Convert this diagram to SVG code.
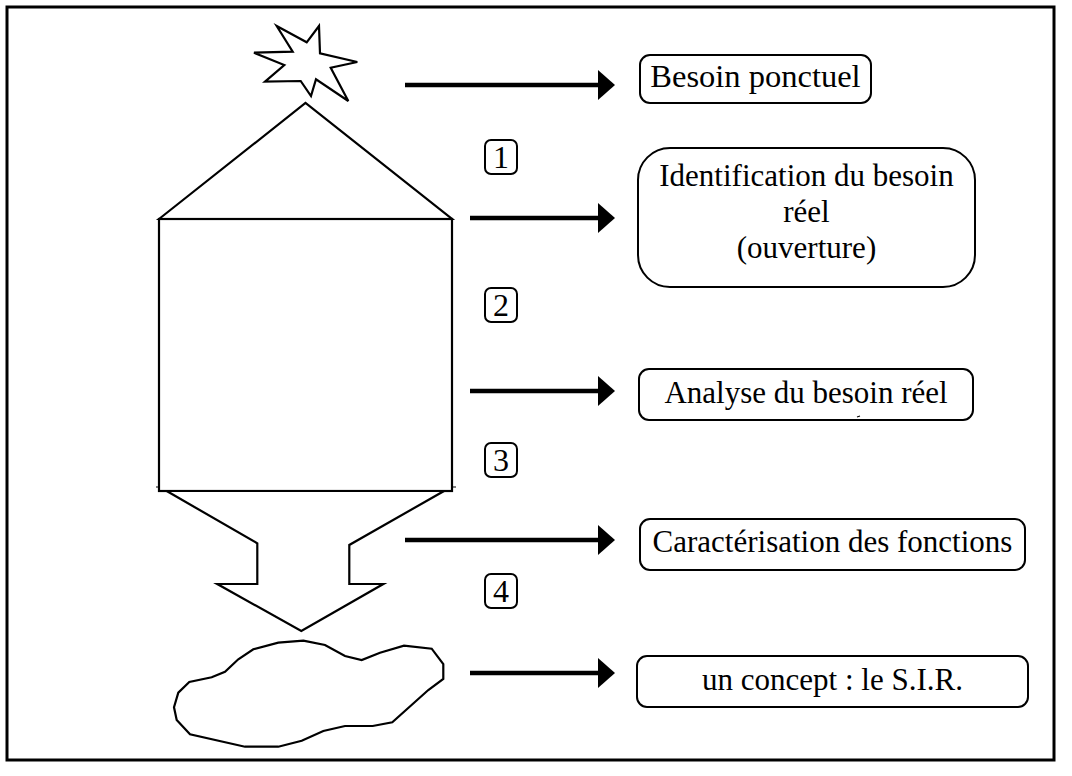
<svg xmlns="http://www.w3.org/2000/svg" width="1072" height="776" viewBox="0 0 1072 776">
<style>
.shape{fill:#fff;stroke:#000;stroke-width:2.2;stroke-linejoin:miter}
.box{fill:#fff;stroke:#000;stroke-width:2}
.lbl{font-family:"Liberation Serif","Times New Roman",serif;font-size:31px;fill:#000;text-anchor:middle}
.num{font-size:32px}
.conn{stroke:#000;stroke-width:4.5;fill:none;marker-end:url(#ah)}
</style>
<defs>
<marker id="ah" markerUnits="userSpaceOnUse" markerWidth="18" markerHeight="32" refX="2" refY="16" orient="auto">
<path d="M0,1 L17,16 L0,31 z" fill="#000"/>
</marker>
</defs>
<rect x="0" y="0" width="1072" height="776" fill="#fff"/>
<rect x="7" y="7" width="1047" height="753" fill="none" stroke="#000" stroke-width="3"/>

<g id="star">
<polygon class="shape" points="276.7,26 306.7,42.3 319,26 320,53.3 357.3,62 330.7,67.7 348.3,101 316,79.3 311,96 300.7,81 265,81.7 284.3,65 254,52.7 292.7,51.7"/>
</g>
<g id="silo">
<polygon class="shape" points="159,219 305.5,103 452,219"/>
<rect class="shape" x="159" y="219" width="293" height="272"/>
<line x1="156" y1="487" x2="159" y2="487" stroke="#000" stroke-width="1"/>
<line x1="452" y1="487" x2="456" y2="487" stroke="#000" stroke-width="1"/>
</g>
<g id="down-arrow">
<polygon class="shape" points="166.7,491 257.3,543.3 257.3,584 217.3,584 301.3,631 383.3,584 349.3,584 349.3,545 444,491"/>
</g>
<g id="cloud">
<polygon class="shape" points="303.3,640.7 325,645 345,656 361.7,660 380,652.7 404,645.7 431.7,648.7 443.3,664 443.3,679 428.3,690 392.3,722.3 372.7,726 345,726 323.3,731 301.7,740.7 278.3,746.7 245,746.7 190,734.3 176.7,720 174,707.3 178.3,692.7 189.3,682 211.7,677.3 225,671.7 238.3,659.3 253.3,649.3 278.3,642.7"/>
</g>

<g id="connectors">
<line class="conn" x1="405" y1="85" x2="600" y2="85"/>
<line class="conn" x1="470" y1="218" x2="600" y2="218"/>
<line class="conn" x1="470" y1="391" x2="600" y2="391"/>
<line class="conn" x1="405" y1="540" x2="600" y2="540"/>
<line class="conn" x1="470" y1="673" x2="600" y2="673"/>
</g>

<g id="n1"><rect class="box" x="485" y="140" width="32" height="34" rx="6"/><text class="lbl num" x="501" y="168">1</text></g>
<g id="n2"><rect class="box" x="485" y="288" width="32" height="34" rx="6"/><text class="lbl num" x="501" y="316">2</text></g>
<g id="n3"><rect class="box" x="485" y="443" width="32" height="34" rx="6"/><text class="lbl num" x="501" y="471">3</text></g>
<g id="n4"><rect class="box" x="485" y="574" width="32" height="34" rx="6"/><text class="lbl num" x="501" y="602">4</text></g>

<g id="b1"><rect class="box" x="640" y="55" width="231" height="48" rx="10"/><text class="lbl" x="755.5" y="87" style="font-size:32.5px">Besoin ponctuel</text></g>
<g id="b2"><rect class="box" x="638" y="148" width="337" height="139" rx="32"/>
<text class="lbl" x="806.5" y="186">Identification du besoin</text>
<text class="lbl" x="806.5" y="222">réel</text>
<text class="lbl" x="806.5" y="258">(ouverture)</text></g>
<g id="b3"><rect class="box" x="639" y="369" width="334" height="51" rx="10"/><text class="lbl" x="806" y="403">Analyse du besoin réel</text>
<line x1="857" y1="417" x2="860" y2="416" stroke="#000" stroke-width="1.2"/></g>
<g id="b4"><rect class="box" x="640" y="519" width="385" height="51" rx="10"/><text class="lbl" x="832.5" y="552">Caractérisation des fonctions</text></g>
<g id="b5"><rect class="box" x="637" y="656" width="391" height="51" rx="10"/><text class="lbl" x="832.5" y="690">un concept : le S.I.R.</text></g>
</svg>
